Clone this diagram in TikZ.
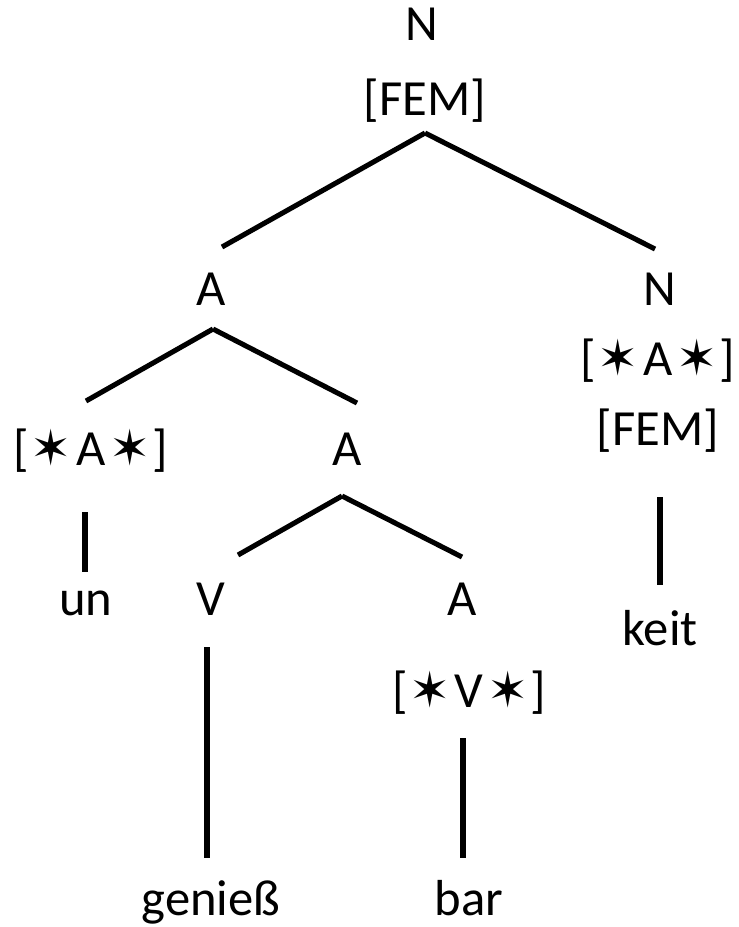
\documentclass[tikz,border=0pt]{standalone}
\usepackage{fontspec}
\setmainfont{Carlito}
\newfontfamily\symfont{DejaVu Sans}
\newcommand{\fstar}{{\symfont\fontsize{35}{35}\selectfont\char"2736}}
\newcommand{\starred}[1]{[\hspace{1pt}\fstar\hspace{3pt}#1\hspace{3pt}\fstar\hspace{1pt}]}
\begin{document}
\begin{tikzpicture}
[x=0.025cm,y=-0.025cm,
  lbl/.style={anchor=base,inner sep=0pt,font=\fontsize{36}{43}\selectfont},%
  branch/.style={-,line width=3.6pt}]
\useasboundingbox (0,0) rectangle (738,927);
%% labels
\foreach \nodename/\x/\y/\txt in {ntop/422/40/N, fem/425/115/[FEM],
  a1/211/305/A, n2/660/305/N, sa/658/375/{\starred{A}},
  fem2/658/445/[FEM], neg/91/465/{\starred{A}}, a2/347/465/A,
  un/86/615/un, v/211/615/V, a3/462/615/A, sv/469/707/{\starred{V}},
  gen/211/915/genieß, bar/469/915/bar, keit/660/645/keit} {
  \node (\nodename) at (\x,\y) [lbl] {\txt};
}
%% branches
\foreach \from/\fx/\fy/\to/\tx/\ty in {fem/0/18/a1/11/-58, fem/0/18/n2/-5/-56,
  a1/2/24/neg/-5/-64, a1/2/24/a2/10/-62, a2/-5/31/v/27/-60,
  a2/-5/31/a3/0/-58, neg/-6/47/un/-1/-43, v/-4/32/gen/-4/-57,
  sv/-6/31/bar/-6/-57, fem2/2/52/keit/0/-60} {
  \draw[branch] ([shift={(\fx,\fy)}]\from.base) -- ([shift={(\tx,\ty)}]\to.base);
}
\end{tikzpicture}
\end{document}
